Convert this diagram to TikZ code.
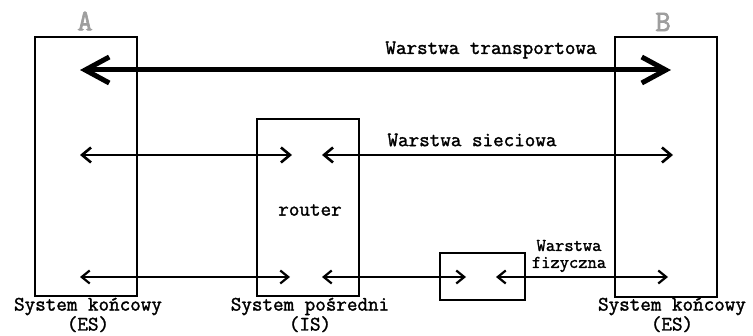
\documentclass[tikz,border=0pt]{standalone}
\usepackage{fontspec}
\newfontfamily\cour[FakeBold=1.6]{Latin Modern Mono}
\newfontfamily\courb[FakeBold=2.2]{Latin Modern Mono}
\usetikzlibrary{arrows.meta}
\begin{document}
\begin{tikzpicture}[x=1pt,y=-1pt,
  sysbox/.style={draw, line width=1.7pt, inner sep=0pt, minimum width=102pt},
  lbl/.style={font=\cour\fontsize{20.5}{16}\selectfont, inner sep=0pt, align=center},
  small/.style={font=\cour\fontsize{18}{17}\selectfont, inner sep=0pt, align=center},
  big/.style={font=\courb\fontsize{30}{30}\selectfont, inner sep=0pt, text=black!38},
  transp/.style={line width=5pt, {Straight Barb[length=24pt,width=26pt]}-{Straight Barb[length=24pt,width=26pt]}},
  net/.style={line width=2.6pt, {Straight Barb[length=9pt,width=15pt]}-{Straight Barb[length=9pt,width=15pt]}},
  phys/.style={line width=2.2pt, {Straight Barb[length=8pt,width=13pt]}-{Straight Barb[length=8pt,width=13pt]}}]
\useasboundingbox (0,0) rectangle (753,336);
% boxes
\node[sysbox, minimum height=259pt] (A) at (86,166.5) {};
\node[sysbox, minimum height=260pt] (B) at (666,167) {};
\node[sysbox, minimum height=177pt] (R) at (308,207.5) {};
\node[sysbox, minimum width=85pt, minimum height=47pt] (S) at (482.5,276.5) {};
% coordinates
\coordinate (t1) at (80,70);   \coordinate (t2) at (671,70);
\coordinate (n1) at (80,155);  \coordinate (n2) at (292,155);
\coordinate (n3) at (322,155); \coordinate (n4) at (673,155);
\coordinate (p1) at (80,277);  \coordinate (p2) at (290,277);
\coordinate (p3) at (322,277); \coordinate (p4) at (466,277);
\coordinate (p5) at (496,277); \coordinate (p6) at (668,277);
% arrows
\draw[transp] (t1) -- (t2);
\draw[net] (n1) -- (n2);
\draw[net] (n3) -- (n4);
\draw[phys] (p1) -- (p2);
\draw[phys] (p3) -- (p4);
\draw[phys] (p5) -- (p6);
% labels
\node[big] (la) at (85,21) {A};
\node[big] (lb) at (663,22) {B};
\node[lbl] (lt) at (491,50) {Warstwa transportowa};
\node[lbl] (ln) at (472,140) {Warstwa sieciowa};
\node[lbl] (lr) at (310,210) {router};
\node[small] (lf) at (569,256) {Warstwa\\fizyczna};
\node[lbl] (esa) at (88,315) {System końcowy\\(ES)};
\node[lbl] (is) at (310,315) {System pośredni\\(IS)};
\node[lbl] (esb) at (672,315) {System końcowy\\(ES)};
\end{tikzpicture}
\end{document}
